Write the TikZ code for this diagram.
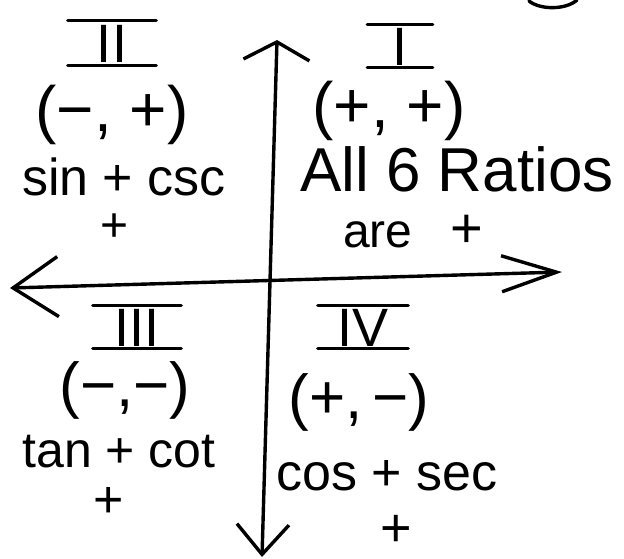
\documentclass[tikz,border=0pt]{standalone}
\usepackage{fontspec}
\setmainfont{Liberation Sans}
\usetikzlibrary{arrows.meta}
\begin{document}
\begin{tikzpicture}[x=1pt,y=-1pt,
  ink/.style={line width=3.4pt,line cap=round,line join=round},
  numeral/.style={font=\fontsize{54}{54}\selectfont,inner xsep=0pt,inner ysep=2pt,text height=39pt,text depth=0pt},
  signs/.style={font=\fontsize{64}{64}\selectfont,inner sep=0pt},
  word/.style={font=\fontsize{52}{52}\selectfont,inner sep=0pt,anchor=base}]
\useasboundingbox (0,0) rectangle (624,558);
% axes
\coordinate (yt) at (277,40);
\coordinate (yb) at (262,557);
\coordinate (xl) at (10,288);
\coordinate (xr) at (562,272);
\draw[ink,{Straight Barb[length=30pt,width=52pt]}-{Straight Barb[length=18pt,width=66pt]}] (yb) -- (yt);
\draw[ink,{Straight Barb[length=45pt,width=60pt]}-{Straight Barb[length=55pt,width=36pt]}] (xl) -- (xr);
% quadrant II
\node[numeral,minimum width=88pt,inner ysep=3pt] (q2) at (112,43) {II};
\node[signs] (s2) at (112,115) {(−, +)};
\node[word] (w2) at (124,195) {sin + csc};
\node[word,font=\fontsize{48}{48}\selectfont,anchor=center] (p2) at (115,228) {+};
% quadrant I
\node[numeral,minimum width=65pt] (q1) at (400,46) {I};
\node[signs] (s1) at (389,111) {(+, +)};
\node[word,font=\fontsize{62}{62}\selectfont] (w1) at (457,191) {All 6 Ratios};
\node[word,font=\fontsize{48}{48}\selectfont,anchor=base west] (w1b) at (343,247) {are\hspace{38pt}{\fontsize{56}{56}\selectfont +}};
% quadrant III
\node[numeral,minimum width=88pt] (q3) at (137,327) {III};
\node[signs,font=\fontsize{62}{62}\selectfont] (s3) at (125,390) {(−,−)};
\node[word,font=\fontsize{50}{50}\selectfont] (w3) at (119,467) {tan + cot};
\node[word,anchor=center] (p3) at (109,502) {+};
% quadrant IV
\node[numeral,minimum width=90pt] (q4) at (363,327) {IV};
\node[signs,font=\fontsize{62}{62}\selectfont] (s4) at (359,402) {(+,\,−)};
\node[word] (w4) at (387,490) {cos + sec};
\node[word,font=\fontsize{54}{54}\selectfont,anchor=center] (p4) at (396,531) {+};
\foreach \q in {q1,q2,q3,q4} {\draw[ink] (\q.north west) -- (\q.north east) (\q.south west) -- (\q.south east);}
% cut-off stroke, top right
\draw[ink] (529,1) .. controls (540,10) and (566,10) .. (577,0);
\end{tikzpicture}
\end{document}
